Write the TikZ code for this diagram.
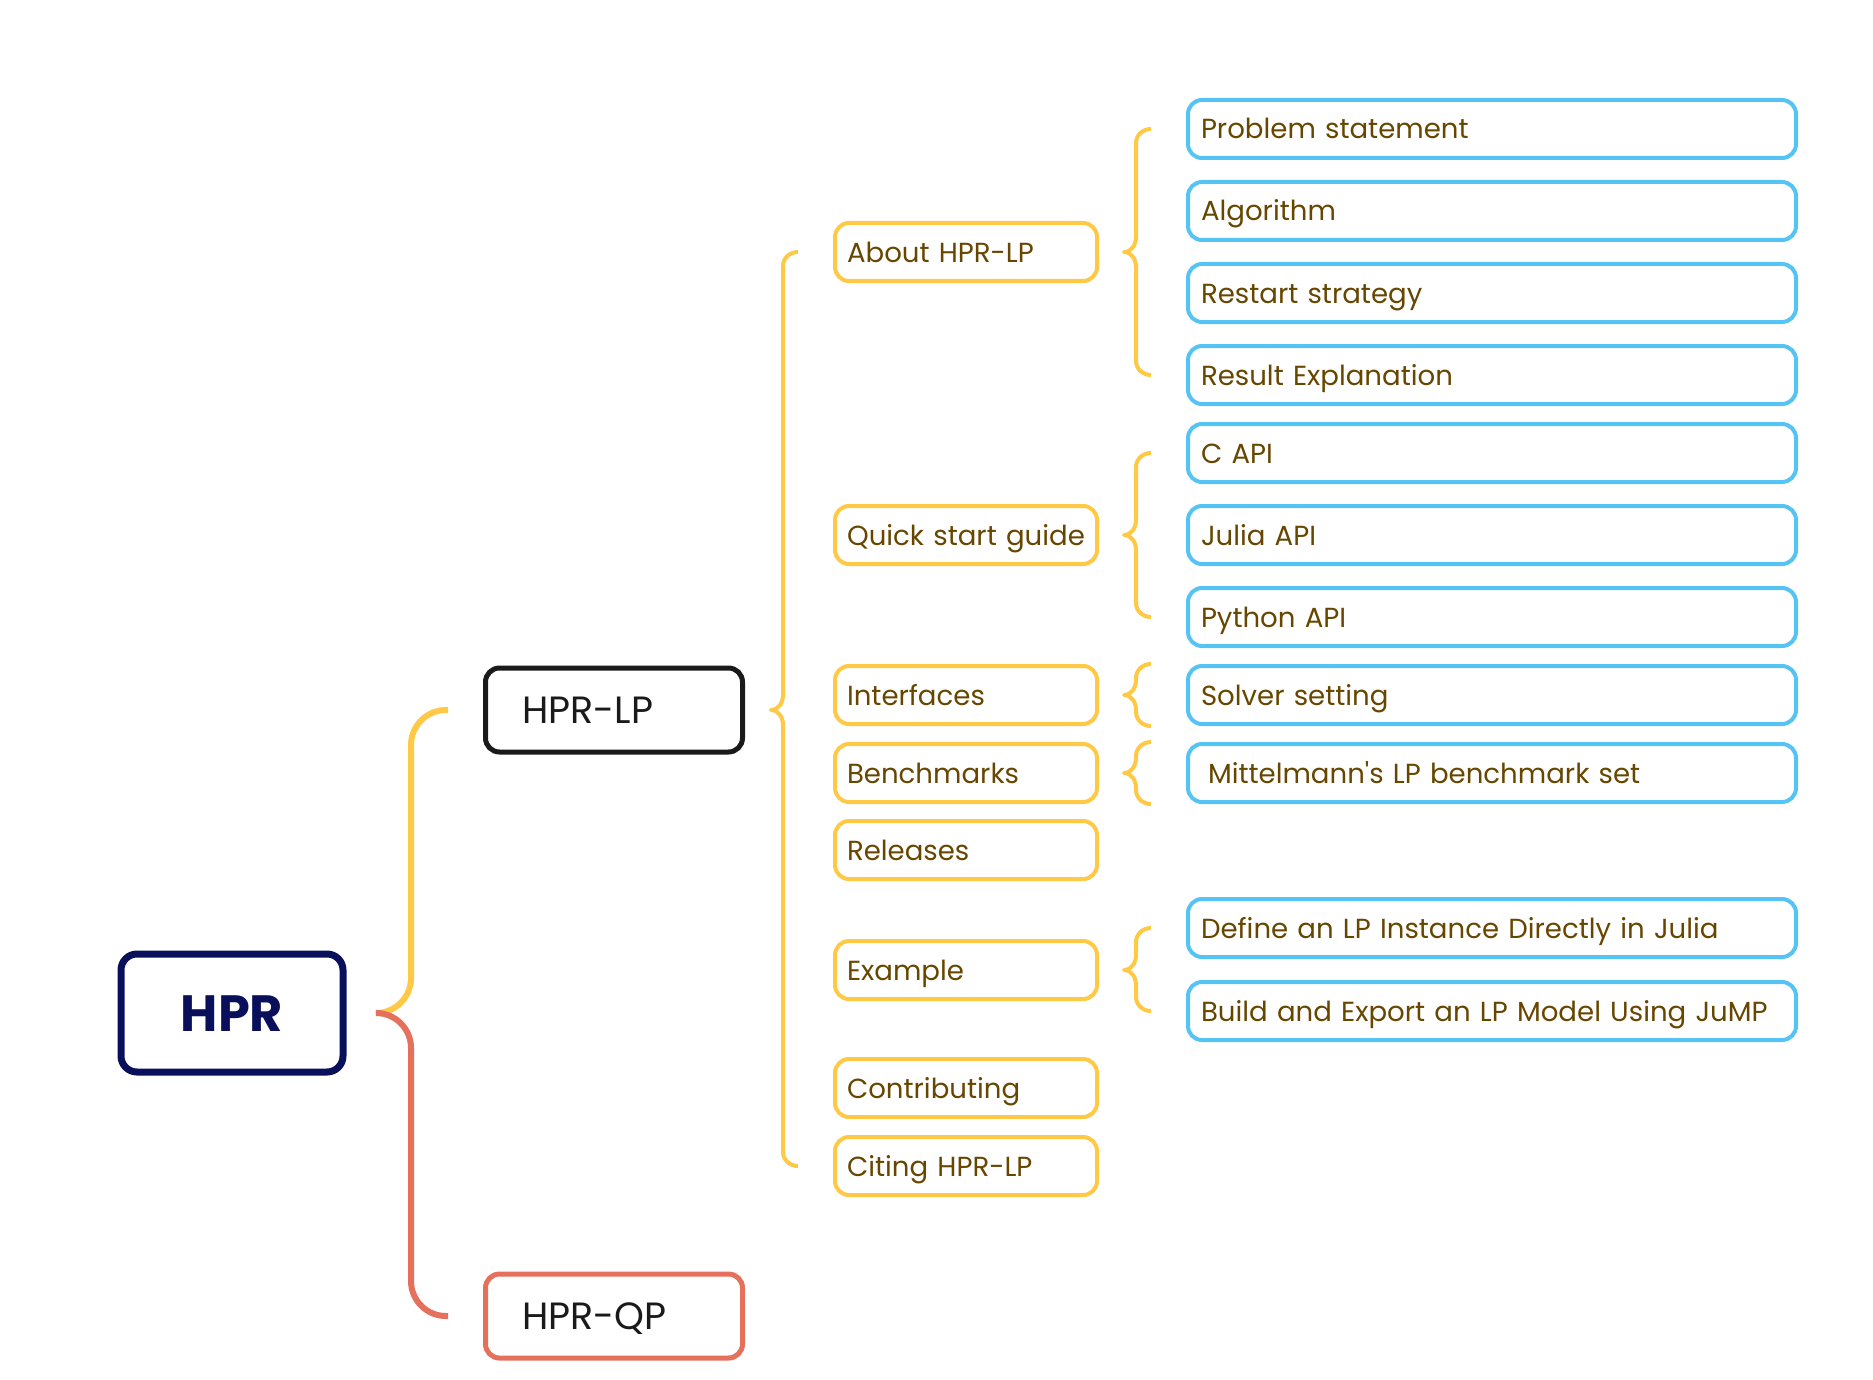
\documentclass[tikz,border=0pt]{standalone}
\usepackage{fontspec}
\setmainfont{Poppins}
\usetikzlibrary{calc}
\definecolor{hprnavy}{HTML}{0A0F5C}
\definecolor{lpyellow}{HTML}{FFC845}
\definecolor{qpred}{HTML}{E5705C}
\definecolor{leafblue}{HTML}{55C4F5}
\definecolor{leaftext}{HTML}{674600}
\definecolor{topicblack}{HTML}{1A1A1A}
\newcommand{\groupbrace}[3]{%
  \draw[brace] let \p1=(#1.east), \p2=($(#2)+(-35,0)$), \p3=($(#3)+(-35,0)$) in
    (\p2) to[out=180,in=90] ({\x2-15pt},{\y2-14pt}) -- ({\x2-15pt},{\y1+15pt})
    to[out=-90,in=0] ({\x2-27pt},\y1) to[out=0,in=90] ({\x2-15pt},{\y1-15pt})
    -- ({\x2-15pt},{\y3+14pt}) to[out=-90,in=180] (\p3);}
\begin{document}
\begin{tikzpicture}[x=1pt, y=-1pt,
  root/.style={draw=hprnavy, line width=7pt, rounded corners=16pt, minimum width=222pt, minimum height=118pt, text=hprnavy, text height=36pt, text depth=0pt, font=\fontsize{51}{56}\selectfont\bfseries},
  topic/.style={draw, line width=5pt, rounded corners=14pt, minimum height=84pt, text width=183pt, inner xsep=37pt, align=left, text=topicblack, text height=27pt, text depth=0pt, font=\fontsize{38}{44}\selectfont},
  section/.style={draw=lpyellow, line width=4pt, rounded corners=14pt, minimum height=58pt, text width=238pt, inner xsep=12pt, align=left, text=leaftext, text height=20pt, text depth=0pt, font=\fontsize{27.6}{32}\selectfont},
  leaf/.style={draw=leafblue, line width=4pt, rounded corners=14pt, minimum height=58pt, text width=582pt, inner xsep=13pt, align=left, text=leaftext, text height=20pt, text depth=0pt, font=\fontsize{27.6}{32}\selectfont},
  brace/.style={draw=lpyellow, line width=4pt, line join=round},
  trunk/.style={line width=6pt, rounded corners=35pt}]
\useasboundingbox (0,0) rectangle (1873,1380);

\node[root] (hpr) at (232,1013) {HPR};
\node[topic, draw=topicblack] (lp) at (614,710) {HPR-LP};
\node[topic, draw=qpred] (qp) at (614,1316) {HPR-QP};

\node[section] (about) at (966,252) {About HPR-LP};
\node[section] (quick) at (966,535) {Quick start guide};
\node[section] (iface) at (966,695) {Interfaces};
\node[section] (bench) at (966,773) {Benchmarks};
\node[section] (releases) at (966,850) {Releases};
\node[section] (example) at (966,970) {Example};
\node[section] (contrib) at (966,1088) {Contributing};
\node[section] (citing) at (966,1166) {Citing HPR-LP};

\node[leaf] (ps) at (1492,129) {Problem statement};
\node[leaf] (algo) at (1492,211) {Algorithm};
\node[leaf] (restart) at (1492,293) {Restart strategy};
\node[leaf] (result) at (1492,375) {Result Explanation};
\node[leaf] (capi) at (1492,453) {C API};
\node[leaf] (julia) at (1492,535) {Julia API};
\node[leaf] (python) at (1492,617) {Python API};
\node[leaf] (solver) at (1492,695) {Solver setting};
\node[leaf] (mittel) at (1492,773) {\hspace*{7pt}Mittelmann\textquotesingle s LP benchmark set};
\node[leaf] (define) at (1492,928) {Define an LP Instance Directly in Julia};
\node[leaf] (build) at (1492,1011) {Build and Export an LP Model Using JuMP};

\draw[trunk, lpyellow] ($(hpr.east)+(31,0)$) -| ($(lp.west)+(-72,0)$) -- ($(lp.west)+(-35,0)$);
\draw[trunk, qpred] ($(hpr.east)+(31,0)$) -| ($(qp.west)+(-72,0)$) -- ($(qp.west)+(-35,0)$);

\groupbrace{lp}{about.west}{citing.west}
\groupbrace{about}{ps.west}{result.west}
\groupbrace{quick}{capi.west}{python.west}
\groupbrace{iface}{solver.north west}{solver.south west}
\groupbrace{bench}{mittel.north west}{mittel.south west}
\groupbrace{example}{define.west}{build.west}
\end{tikzpicture}
\end{document}
